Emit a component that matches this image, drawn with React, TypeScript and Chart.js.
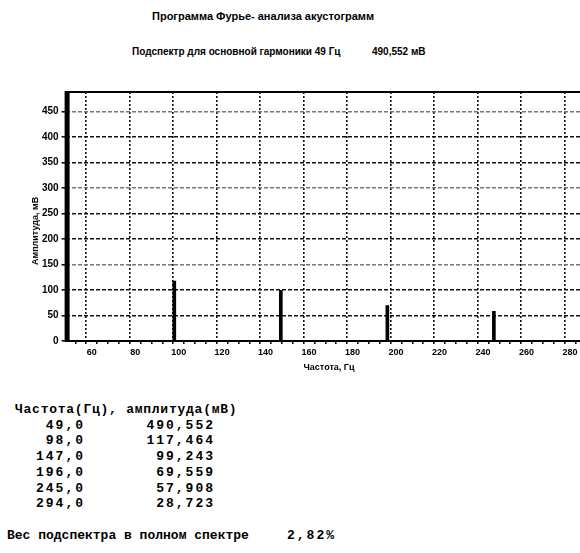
import React, { useEffect, useRef } from "react";
import { Chart, registerables } from "chart.js";

Chart.register(...registerables);

// ---- data ----
const frequencies = [49, 98, 147, 196, 245, 294];
const amplitudes = [490.552, 117.464, 99.243, 69.559, 57.908, 28.723];
const xTickLabels = [60, 80, 100, 120, 140, 160, 180, 200, 220, 240, 260, 280];
const yTickLabels = [0, 50, 100, 150, 200, 250, 300, 350, 400, 450];
const xRange = [48, 290];
const yRange = [0, 488];

const titleText = "Программа Фурье- анализа акустограмм";
const subtitleText = "Подспектр для основной гармоники 49 Гц";
const subtitleValue = "490,552 мВ";
const xTitle = "Частота, Гц";
const yTitle = "Амплитуда, мВ";
const tableHeader = "Частота(Гц), амплитуда(мВ)";
const weightLabel = "Вес подспектра в полном спектре";
const weightValue = "2,82%";

const fmt = (v: number, d: number) => v.toFixed(d).replace(".", ",");

const framePlugin = {
  id: "frame",
  afterDatasetsDraw(chart: any) {
    const { ctx, chartArea } = chart;
    ctx.save();
    ctx.strokeStyle = "#000";
    ctx.lineWidth = 2;
    ctx.strokeRect(chartArea.left, chartArea.top, chartArea.right - chartArea.left, chartArea.bottom - chartArea.top);
    ctx.restore();
  },
};

const CW = 600;
const CH = 380;

function ChartCanvas() {
  const ref = useRef<HTMLCanvasElement | null>(null);
  useEffect(() => {
    if (!ref.current) return;
    const chart = new Chart(ref.current, {
      type: "bar",
      data: {
        datasets: [
          {
            data: frequencies.map((f, i) => ({ x: f, y: amplitudes[i] })),
            backgroundColor: "#000",
            borderWidth: 0,
            barThickness: 3,
          },
        ],
      },
      options: {
        animation: false,
        responsive: false,
        devicePixelRatio: 1,
        layout: { padding: { left: 0, right: CW - 591.7, top: 92, bottom: CH - 341 - 30 } },
        plugins: { legend: { display: false }, tooltip: { enabled: false } },
        scales: {
          x: {
            type: "linear",
            min: xRange[0],
            max: xRange[1],
            offset: false,
            afterBuildTicks: (scale: any) => {
              const t: any[] = [];
              for (let v = 50; v <= 290; v += 5) t.push({ value: v });
              scale.ticks = t;
            },
            afterFit: (scale: any) => {
              scale.height = 30;
            },
            ticks: {
              autoSkip: false,
              maxRotation: 0,
              padding: 3,
              color: "#000",
              font: { family: "'Liberation Sans', Arial, sans-serif", size: 9, weight: "bold" },
              callback: (v: any) => (xTickLabels.includes(Number(v)) ? String(v) : ""),
            },
            grid: {
              color: (c: any) => (c.tick && xTickLabels.includes(c.tick.value) ? "#111" : "rgba(0,0,0,0)"),
              lineWidth: 1.6,
              tickColor: "#000",
              tickLength: 3,
              tickWidth: 1.5,
            },
            border: { display: false, dash: [2, 2] },
          },
          y: {
            min: yRange[0],
            max: yRange[1],
            afterBuildTicks: (scale: any) => {
              scale.ticks = yTickLabels.map((v) => ({ value: v }));
            },
            afterFit: (scale: any) => {
              scale.width = 65.6;
            },
            ticks: {
              padding: 3,
              color: "#000",
              font: { family: "'Liberation Sans', Arial, sans-serif", size: 10, weight: "bold" },
            },
            grid: {
              color: (c: any) =>
                c.tick && (c.tick.value === 150 || c.tick.value === 300 || c.tick.value === 450) ? "#777" : "#111",
              lineWidth: 1.6,
              tickColor: "#000",
              tickLength: 4,
              tickWidth: 1.5,
            },
            border: { display: false, dash: [4, 2] },
          },
        },
      } as any,
      plugins: [framePlugin],
    });
    return () => chart.destroy();
  }, []);
  return (
    <canvas
      ref={ref}
      width={CW}
      height={CH}
      style={{ position: "absolute", left: 0, top: 0, width: CW, height: CH }}
    />
  );
}

const sans = "'Liberation Sans', Arial, sans-serif";
const mono = "'Liberation Mono', 'Courier New', monospace";

export default function App() {
  const rowY0 = 425.7;
  const rowStep = 15.75;
  return (
    <div
      style={{
        position: "fixed",
        left: 0,
        top: 0,
        width: 580,
        height: 553,
        overflow: "hidden",
        background: "#fff",
        color: "#000",
      }}
    >
      <div style={{ position: "absolute", left: 152, top: 8, fontFamily: sans, fontSize: 11, fontWeight: "bold", whiteSpace: "nowrap", lineHeight: "16px" }}>
        {titleText}
      </div>
      <div style={{ position: "absolute", left: 132, top: 44, fontFamily: sans, fontSize: 10, fontWeight: "bold", whiteSpace: "nowrap", lineHeight: "16px" }}>
        {subtitleText}
      </div>
      <div style={{ position: "absolute", left: 372, top: 44, fontFamily: sans, fontSize: 10, fontWeight: "bold", whiteSpace: "nowrap", lineHeight: "16px" }}>
        {subtitleValue}
      </div>
      <ChartCanvas />
      <div
        style={{
          position: "absolute",
          left: 35,
          top: 231,
          transform: "translate(-50%, -50%) rotate(-90deg)",
          fontFamily: sans,
          fontSize: 9,
          fontWeight: "bold",
          whiteSpace: "nowrap",
          lineHeight: "12px",
        }}
      >
        {yTitle}
      </div>
      <div
        style={{
          position: "absolute",
          left: 329,
          top: 367,
          transform: "translate(-50%, -50%)",
          fontFamily: sans,
          fontSize: 9,
          fontWeight: "bold",
          whiteSpace: "nowrap",
          lineHeight: "12px",
        }}
      >
        {xTitle}
      </div>
      <div style={{ position: "absolute", left: 15, top: 410 - 8, fontFamily: mono, fontSize: 13, fontWeight: "bold", letterSpacing: 0.75, whiteSpace: "pre", lineHeight: "16px" }}>
        {tableHeader}
      </div>
      {frequencies.map((f, i) => (
        <React.Fragment key={f}>
          <div style={{ position: "absolute", left: 0, width: 85, textAlign: "right", top: rowY0 + i * rowStep - 8, fontFamily: mono, fontSize: 13, fontWeight: "bold", letterSpacing: 2, whiteSpace: "pre", lineHeight: "16px" }}>
            {fmt(f, 1)}
          </div>
          <div style={{ position: "absolute", left: 0, width: 215, textAlign: "right", top: rowY0 + i * rowStep - 8, fontFamily: mono, fontSize: 13, fontWeight: "bold", letterSpacing: 2, whiteSpace: "pre", lineHeight: "16px" }}>
            {fmt(amplitudes[i], 3)}
          </div>
        </React.Fragment>
      ))}
      <div style={{ position: "absolute", left: 7, top: 536 - 8, fontFamily: mono, fontSize: 13, fontWeight: "bold", whiteSpace: "pre", lineHeight: "16px" }}>
        {weightLabel}
      </div>
      <div style={{ position: "absolute", left: 287, top: 536 - 8, fontFamily: mono, fontSize: 13, fontWeight: "bold", letterSpacing: 2, whiteSpace: "pre", lineHeight: "16px" }}>
        {weightValue}
      </div>
    </div>
  );
}
